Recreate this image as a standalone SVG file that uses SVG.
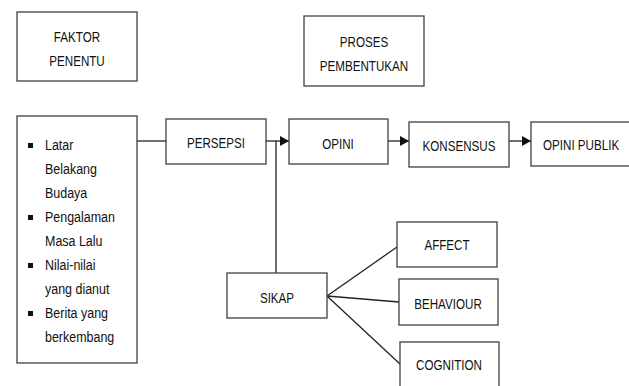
<svg xmlns="http://www.w3.org/2000/svg" width="629" height="386" viewBox="0 0 629 386">
<defs>
<style>
.box{fill:#fff;stroke:#404040;stroke-width:1.3}
.ln{fill:none;stroke:#222;stroke-width:1.3}
text{font-family:"Liberation Sans",Arial,sans-serif;fill:#111;font-size:14px}
.c{text-anchor:middle}
.bul{fill:#111}
</style>
<marker id="ah" markerWidth="9" markerHeight="10" refX="9" refY="5" orient="auto" markerUnits="userSpaceOnUse">
<path d="M0,0 L9,5 L0,10 Z" fill="#111"/>
</marker>
</defs>
<rect width="629" height="386" fill="#fff"/>
<g id="connectors">
<line class="ln" x1="137" y1="141" x2="166" y2="141"/>
<line class="ln" x1="266" y1="141" x2="289" y2="141" marker-end="url(#ah)"/>
<line class="ln" x1="276" y1="141" x2="276" y2="273"/>
<line class="ln" x1="388" y1="141" x2="409" y2="141" marker-end="url(#ah)"/>
<line class="ln" x1="509" y1="141" x2="531" y2="141" marker-end="url(#ah)"/>
<line class="ln" x1="327" y1="296" x2="397" y2="247"/>
<line class="ln" x1="327" y1="296" x2="399" y2="302"/>
<line class="ln" x1="327" y1="296" x2="400" y2="364"/>
</g>
<g id="faktor-penentu">
<rect class="box" x="17" y="12" width="120" height="69"/>
<text class="c" transform="translate(77,42) scale(0.83,1)">FAKTOR</text>
<text class="c" transform="translate(77,66) scale(0.83,1)">PENENTU</text>
</g>
<g id="proses-pembentukan">
<rect class="box" x="304" y="16" width="120" height="70"/>
<text class="c" transform="translate(364,47) scale(0.83,1)">PROSES</text>
<text class="c" transform="translate(364,71) scale(0.83,1)">PEMBENTUKAN</text>
</g>
<g id="faktor-list">
<rect class="box" x="17" y="116" width="120" height="247"/>
<rect class="bul" x="28" y="143" width="5" height="5"/>
<rect class="bul" x="28" y="215" width="5" height="5"/>
<rect class="bul" x="28" y="263" width="5" height="5"/>
<rect class="bul" x="28" y="311" width="5" height="5"/>
<g transform="translate(45,0) scale(0.89,1)">
<text x="0" y="150">Latar</text>
<text x="0" y="174">Belakang</text>
<text x="0" y="198">Budaya</text>
<text x="0" y="222">Pengalaman</text>
<text x="0" y="246">Masa Lalu</text>
<text x="0" y="270">Nilai-nilai</text>
<text x="0" y="294">yang dianut</text>
<text x="0" y="318">Berita yang</text>
<text x="0" y="342">berkembang</text>
</g>
</g>
<g id="persepsi">
<rect class="box" x="166" y="119" width="100" height="45"/>
<text class="c" transform="translate(216,148) scale(0.83,1)">PERSEPSI</text>
</g>
<g id="opini">
<rect class="box" x="289" y="119" width="99" height="45"/>
<text class="c" transform="translate(338,149) scale(0.83,1)">OPINI</text>
</g>
<g id="konsensus">
<rect class="box" x="409" y="122" width="100" height="45"/>
<text class="c" transform="translate(459,151) scale(0.83,1)">KONSENSUS</text>
</g>
<g id="opini-publik">
<rect class="box" x="531" y="122" width="110" height="44"/>
<text transform="translate(543,150) scale(0.83,1)">OPINI PUBLIK</text>
</g>
<g id="sikap">
<rect class="box" x="227" y="273" width="100" height="45"/>
<text class="c" transform="translate(277,303) scale(0.83,1)">SIKAP</text>
</g>
<g id="affect">
<rect class="box" x="397" y="222" width="100" height="45"/>
<text class="c" transform="translate(447,250) scale(0.83,1)">AFFECT</text>
</g>
<g id="behaviour">
<rect class="box" x="399" y="279" width="99" height="46"/>
<text class="c" transform="translate(448,309) scale(0.83,1)">BEHAVIOUR</text>
</g>
<g id="cognition">
<rect class="box" x="400" y="342" width="99" height="50"/>
<text class="c" transform="translate(449,370) scale(0.83,1)">COGNITION</text>
</g>
</svg>
